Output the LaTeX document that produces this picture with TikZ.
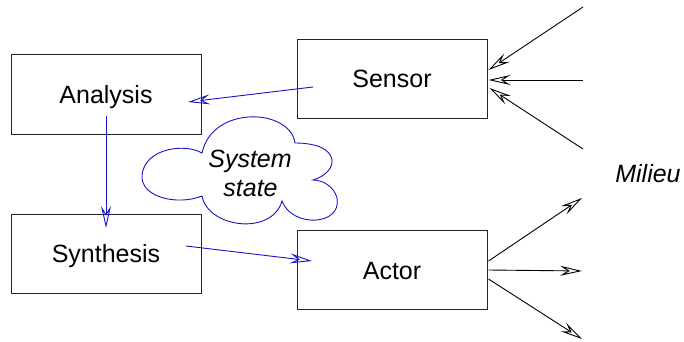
\documentclass[tikz,border=0pt]{standalone}
\usepackage{fontspec}
\setmainfont{Liberation Sans}
\usetikzlibrary{arrows.meta,calc}
\definecolor{flowblue}{RGB}{20,20,200}
\begin{document}
\begin{tikzpicture}[x=1pt,y=-1pt,
  font=\fontsize{25}{29}\selectfont,
  block/.style={draw=black!85,line width=1pt,minimum width=190pt,minimum height=79pt,
    inner sep=0pt,text height=18pt,text depth=0pt},
  openhead/.style={-{Stealth[open,length=22pt,width=10pt,inset=8pt]}},
  flow/.style={openhead,draw=flowblue,line width=0.9pt},
  world/.style={openhead,draw=black,line width=0.9pt},
  note/.style={font=\fontsize{25}{29}\selectfont\itshape,anchor=base}]
\useasboundingbox (0,0) rectangle (684,342);

% the four blocks
\node[block] (analysis)  at (106,94.5)  {Analysis};
\node[block] (synthesis) at (106,253.5) {Synthesis};
\node[block] (sensor)    at (392,79)    {Sensor};
\node[block] (actor)     at (392,270)   {Actor};

% the state cloud
\draw[flowblue,line width=0.9pt]
  (202,153) .. controls (185,143) and (145,148) .. (142,175)
  .. controls (140,197) and (177,206) .. (202,196)
  .. controls (208,228) and (272,236) .. (282,201)
  .. controls (292,228) and (342,226) .. (337,198)
  .. controls (334,186) and (322,180) .. (313,180)
  .. controls (340,172) and (342,143) .. (295,143)
  .. controls (290,108) and (212,105) .. (202,153) -- cycle;
\node[note] (stateA) at (250,167) {System};
\node[note] (stateB) at (250.5,196) {state};

\node[note] (milieu) at (648,182) {Milieu};

% connector end points
\coordinate (sa1) at ($(sensor.center)+(-79,8)$);
\coordinate (sa2) at ($(analysis.center)+(82,7.5)$);
\coordinate (as1) at ($(analysis.center)+(0,21.5)$);
\coordinate (as2) at ($(synthesis.center)+(0,-25.5)$);
\coordinate (sy1) at ($(synthesis.center)+(80,-7.5)$);
\coordinate (sy2) at ($(actor.center)+(-80,-9)$);

\coordinate (in1) at (583,7);
\coordinate (in2) at (583,80);
\coordinate (in3) at (583,149);
\coordinate (out1) at (582,198);
\coordinate (out2) at (582,271);
\coordinate (out3) at (582,339);

% internal flow
\draw[flow] (sa1) -- (sa2);
\draw[flow] (as1) -- (as2);
\draw[flow] (sy1) -- (sy2);

% exchange with the environment
\draw[world] (in1) -- ($(sensor.east)+(1,-9)$);
\draw[world] (in2) -- ($(sensor.east)+(1,1)$);
\draw[world] (in3) -- ($(sensor.east)+(2,9)$);
\draw[world] ($(actor.east)+(1,-9)$) -- (out1);
\draw[world] ($(actor.east)+(1,0)$) -- (out2);
\draw[world] ($(actor.east)+(1,9)$) -- (out3);
\end{tikzpicture}
\end{document}
